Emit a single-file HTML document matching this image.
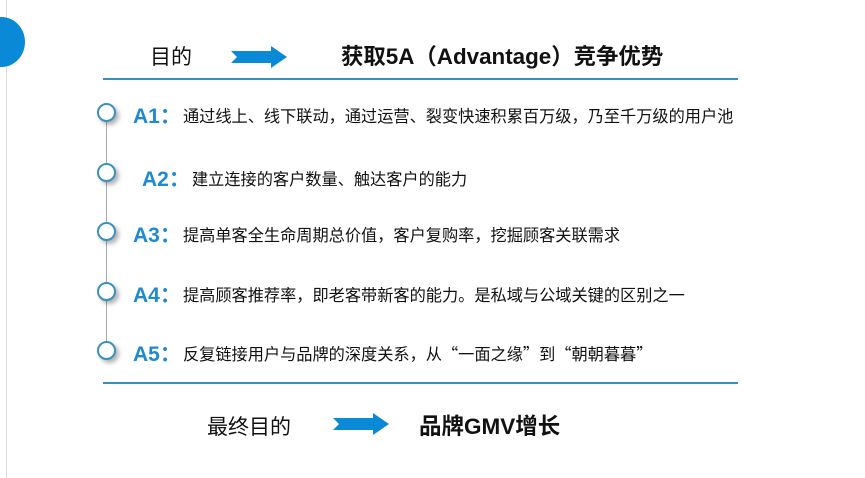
<!DOCTYPE html><html><head><meta charset="utf-8"><style>
body{margin:0;width:865px;height:478px;background:#fff;position:relative;overflow:hidden;font-family:"Liberation Sans","Noto Sans CJK SC",sans-serif}
.a{position:absolute;white-space:nowrap}
.c{position:absolute;width:15px;height:15px;border:2px solid #3a90c0;border-radius:50%;background:#fff;box-shadow:3px 3px 4px rgba(0,0,0,.3)}
.l{position:absolute;color:#1f8ad0;font-weight:bold;font-size:21px}
.d{position:absolute;font-size:16.2px;color:#111;white-space:nowrap;top:0}
.q{font-family:"Noto Sans CJK SC",sans-serif}
</style></head><body>
<div class="a" style="left:6px;top:0;width:1px;height:478px;background:#ddd"></div>
<div class="a" style="left:-22px;top:17px;width:47px;height:50px;border-radius:50%;background:#0a8ad6"></div>
<div class="a" style="left:150px;top:41px;font-size:21px;color:#111">目的</div>
<svg class="a" style="left:231px;top:46px" width="58" height="22"><polygon points="0,5 40,5 40,0 56,11 40,22 40,17 0,17 6,11" fill="#0a8ad6"/></svg>
<div class="a" style="left:341px;top:39px;font-size:22.4px;font-weight:bold;color:#111">获取5A（Advantage）竞争优势</div>
<div class="a" style="left:103px;top:78px;width:635px;height:1.5px;background:#3a90b8"></div>
<div class="a" style="left:103px;top:382px;width:635px;height:1.5px;background:#3a90b8"></div>
<div class="a" style="left:106px;top:112px;width:1px;height:238px;background:#aaa"></div>
<div class="c" style="left:97px;top:103px"></div><div class="l" style="left:133px;top:100px">A1：</div><div class="d" style="left:183px;top:103px">通过线上、线下联动，通过运营、裂变快速积累百万级，乃至千万级的用户池</div>
<div class="c" style="left:97px;top:163px"></div><div class="l" style="left:142px;top:163px">A2：</div><div class="d" style="left:192px;top:166px">建立连接的客户数量、触达客户的能力</div>
<div class="c" style="left:97px;top:222px"></div><div class="l" style="left:133px;top:219px">A3：</div><div class="d" style="left:183px;top:222px">提高单客全生命周期总价值，客户复购率，挖掘顾客关联需求</div>
<div class="c" style="left:97px;top:282px"></div><div class="l" style="left:133px;top:279px">A4：</div><div class="d" style="left:183px;top:282px">提高顾客推荐率，即老客带新客的能力。是私域与公域关键的区别之一</div>
<div class="c" style="left:97px;top:341px"></div><div class="l" style="left:133px;top:338px">A5：</div><div class="d q" style="left:183px;top:341px">反复链接用户与品牌的深度关系，从“一面之缘”到“朝朝暮暮”</div>
<div class="a" style="left:207px;top:411px;font-size:21px;color:#111">最终目的</div>
<svg class="a" style="left:333px;top:413px" width="58" height="22"><polygon points="0,5 40,5 40,0 56,11 40,22 40,17 0,17 6,11" fill="#0a8ad6"/></svg>
<div class="a" style="left:419px;top:409px;font-size:22.5px;font-weight:bold;color:#111">品牌GMV增长</div>
</body></html>
